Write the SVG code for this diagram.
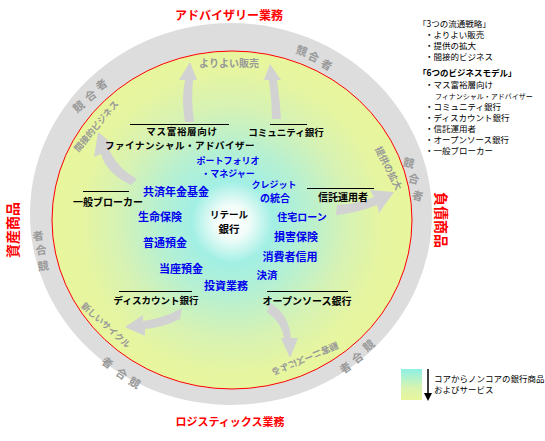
<svg xmlns="http://www.w3.org/2000/svg" width="545" height="441" viewBox="0 0 545 441">
<defs>
<radialGradient id="core" gradientUnits="userSpaceOnUse" cx="232" cy="222" r="185">
<stop offset="0" stop-color="#ffffff"/>
<stop offset="0.09" stop-color="#f2fdfa"/>
<stop offset="0.22" stop-color="#a2efe4"/>
<stop offset="0.4" stop-color="#b6f0d2"/>
<stop offset="0.62" stop-color="#d6f2b4"/>
<stop offset="0.82" stop-color="#e6f5a0"/>
<stop offset="1" stop-color="#e8f69c"/>
</radialGradient>
<linearGradient id="leg" x1="0" y1="0" x2="0" y2="1">
<stop offset="0" stop-color="#8ef0e6"/>
<stop offset="0.6" stop-color="#d8f4b0"/>
<stop offset="1" stop-color="#e8f69c"/>
</linearGradient>
</defs>
<style>
text{font-family:"Noto Sans CJK JP","Noto Sans",sans-serif;}
.lbl{font-size:10px;font-weight:bold;fill:#000;text-anchor:middle;}
.blu{font-size:10.5px;font-weight:bold;fill:#0000ee;text-anchor:middle;}
.red{font-size:12px;font-weight:bold;fill:#ff0000;text-anchor:middle;}
.gry{font-size:9px;font-weight:bold;fill:#999999;text-anchor:middle;dominant-baseline:central;}
.cmp{font-size:11px;font-weight:bold;fill:#999999;text-anchor:middle;dominant-baseline:central;}
.leg{font-size:8.5px;fill:#000;}
.arw{fill:#d2d2d2;}
.rule{stroke:#000;stroke-width:1;}
</style>

<g id="ring">
<ellipse cx="231" cy="214" rx="201" ry="191" fill="#dddddd"/>
<ellipse cx="232" cy="220" rx="180" ry="169" fill="url(#core)" stroke="#ff0000" stroke-width="1"/>
</g>

<g id="competitors">
<text class="cmp" transform="translate(78,106) rotate(-40)">競</text>
<text class="cmp" transform="translate(90,95) rotate(-38)">合</text>
<text class="cmp" transform="translate(101,84) rotate(-35)">者</text>
<text class="cmp" transform="translate(302,50) rotate(18)">競</text>
<text class="cmp" transform="translate(314,56) rotate(24)">合</text>
<text class="cmp" transform="translate(327,64) rotate(30)">者</text>
<text class="cmp" transform="translate(409,162) rotate(12)">競</text>
<text class="cmp" transform="translate(414,178) rotate(14)">合</text>
<text class="cmp" transform="translate(418,195) rotate(16)">者</text>
<text class="cmp" transform="translate(43,265) rotate(-8)">競</text>
<text class="cmp" transform="translate(41,249) rotate(-8)">合</text>
<text class="cmp" transform="translate(38,235) rotate(-8)">者</text>
<text class="cmp" transform="translate(135,382) rotate(30)">競</text>
<text class="cmp" transform="translate(122,373) rotate(33)">合</text>
<text class="cmp" transform="translate(108,362) rotate(36)">者</text>
<text class="cmp" transform="translate(368,345) rotate(-40)">競</text>
<text class="cmp" transform="translate(357,357) rotate(-38)">合</text>
<text class="cmp" transform="translate(345,367) rotate(-35)">者</text>
</g>

<g id="outer-labels">
<text class="red" x="229" y="20">アドバイザリー業務</text>
<text class="red" x="230" y="426" style="font-size:11px">ロジスティックス業務</text>
<text class="red" transform="translate(12,230) rotate(-90)" style="font-size:14px;dominant-baseline:central">資産商品</text>
<text class="red" transform="translate(442,220) rotate(90)" style="font-size:14px;dominant-baseline:central">負債商品</text>
</g>

<g id="connectors">
<path class="arw" d="M190 62 L197 80 L193 80 Q191 100 194 122 L185 122 Q181 100 185 80 L179 80 Z"/>
<path class="arw" d="M270 64 L281 80 L277 80 Q280 100 281 119 L272 119 Q272 100 269 80 L264 80 Z"/>
<path class="arw" d="M98 132 L115 146 L109 149 Q117 168 137 179 L131 185 Q106 173 101 154 L94 157 Z"/>
<path class="arw" d="M394 192 L379 213 L377 205 Q357 213 336 215 L337 205 Q357 204 374 197 L370 190 Z"/>
<path class="arw" d="M125 327 L143 315 L143 321 Q165 318 182 308 L180 319 Q165 327 145 329 L145 336 Z"/>
<path class="arw" d="M270 303 Q289 314 291 338 L298 338 L290 358 L281 338 L284 338 Q282 323 267 312 Z"/>
</g>

<g id="strategies">
<text class="gry" x="229" y="62" style="font-size:10px">よりよい販売</text>
<text class="gry" transform="translate(96,126) rotate(-50)">間接的ビジネス</text>
<text class="gry" transform="translate(389,168) rotate(63)" style="font-size:9.5px">提供の拡大</text>
<text class="gry" transform="translate(106,325) rotate(42)">新しいサイクル</text>
<text class="gry" transform="translate(305,359) rotate(157)">顧客ニーズによる</text>
</g>

<g id="node-mass">
<line class="rule" x1="130" y1="124.5" x2="229" y2="124.5"/>
<text class="lbl" x="182" y="135" style="font-size:9.5px;letter-spacing:0.7px">マス富裕層向け</text>
<text class="lbl" x="180" y="149" style="font-size:9.5px;letter-spacing:0.5px">ファイナンシャル・アドバイザー</text>
</g>
<g id="node-community">
<line class="rule" x1="270" y1="124.5" x2="307" y2="124.5"/>
<text class="lbl" x="286" y="136" style="font-size:9.5px">コミュニティ銀行</text>
</g>
<g id="node-broker">
<line class="rule" x1="83" y1="191.5" x2="129" y2="191.5"/>
<text class="lbl" x="108" y="206">一般ブローカー</text>
</g>
<g id="node-trust">
<line class="rule" x1="307" y1="188.5" x2="374" y2="188.5"/>
<text class="lbl" x="343" y="201">信託運用者</text>
</g>
<g id="node-discount">
<line class="rule" x1="119" y1="291.5" x2="192" y2="291.5"/>
<text class="lbl" x="156" y="304" style="font-size:9.5px">ディスカウント銀行</text>
</g>
<g id="node-opensource">
<line class="rule" x1="267" y1="291.5" x2="348" y2="291.5"/>
<text class="lbl" x="307" y="305">オープンソース銀行</text>
</g>
<g id="node-retail">
<text class="lbl" x="229" y="218" style="font-size:9.5px">リテール</text>
<text class="lbl" x="229" y="233" style="font-size:10.5px">銀行</text>
</g>

<g id="products">
<text class="blu" x="228" y="164" style="font-size:9px">ポートフォリオ</text>
<text class="blu" x="228" y="177" style="font-size:9px">・マネジャー</text>
<text class="blu" x="274" y="188" style="font-size:9px">クレジット</text>
<text class="blu" x="275" y="202" style="font-size:10px">の統合</text>
<text class="blu" x="176" y="196" style="font-size:11px">共済年金基金</text>
<text class="blu" x="160" y="221" style="font-size:11px">生命保険</text>
<text class="blu" x="165" y="247" style="font-size:11px">普通預金</text>
<text class="blu" x="181" y="273" style="font-size:11px">当座預金</text>
<text class="blu" x="226" y="290" style="font-size:11px">投資業務</text>
<text class="blu" x="302" y="221" style="font-size:10px">住宅ローン</text>
<text class="blu" x="296" y="241" style="font-size:11px">損害保険</text>
<text class="blu" x="290" y="261" style="font-size:11px">消費者信用</text>
<text class="blu" x="267" y="279">決済</text>
</g>

<g id="legend-models">
<text class="leg" x="418" y="27">「3つの流通戦略」</text>
<text class="leg" x="425" y="38">・よりよい販売</text>
<text class="leg" x="425" y="49">・提供の拡大</text>
<text class="leg" x="425" y="60">・間接的ビジネス</text>
<text class="leg" x="418" y="76" style="font-weight:bold">「6つのビジネスモデル」</text>
<text class="leg" x="425" y="88">・マス富裕層向け</text>
<text class="leg" x="435" y="99" style="font-size:7px">フィナンシャル・アドバイザー</text>
<text class="leg" x="425" y="110">・コミュニティ銀行</text>
<text class="leg" x="425" y="121">・ディスカウント銀行</text>
<text class="leg" x="425" y="132">・信託運用者</text>
<text class="leg" x="425" y="143">・オープンソース銀行</text>
<text class="leg" x="425" y="154">・一般ブローカー</text>
</g>

<g id="legend-scale">
<rect x="401" y="369" width="21" height="31" fill="url(#leg)"/>
<line x1="428" y1="369" x2="428" y2="395" stroke="#000" stroke-width="1.5"/>
<polygon points="424,393 432,393 428,401" fill="#000"/>
<text class="leg" x="434" y="382">コアからノンコアの銀行商品</text>
<text class="leg" x="434" y="393">およびサービス</text>
</g>
</svg>
